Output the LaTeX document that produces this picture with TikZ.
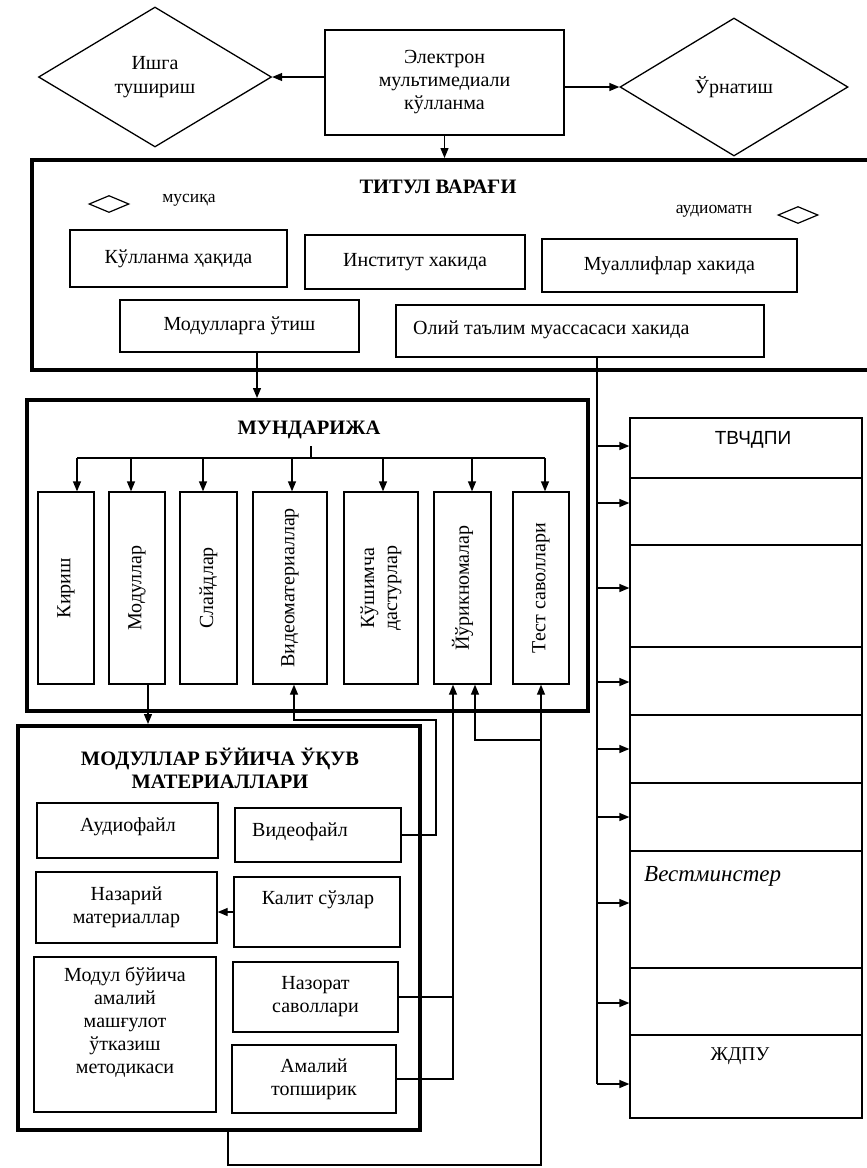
\documentclass[tikz,border=0pt]{standalone}
\usepackage{fontspec}
\setmainfont{Liberation Serif}
\newfontfamily\arialf{Liberation Sans}
\usetikzlibrary{shapes.geometric,arrows.meta}
\newcommand\mybox[7][]{\node[box,#1,minimum width={#5pt-#3pt},minimum height={#6pt-#4pt}] (#2) at ({(#3+#5)/2},{(#4+#6)/2}) {#7};}
\begin{document}
\begin{tikzpicture}[x=1pt,y=-1pt,
  box/.style={draw, line width=1.3pt, rectangle, inner sep=0pt, align=center},
  frame/.style={line width=4pt},
  dia/.style={draw, line width=1.3pt, diamond, inner sep=0pt, align=center, aspect=1.66},
  sdia/.style={draw, line width=1.2pt, diamond, inner sep=0pt, aspect=2.2},
  arr/.style={line width=1.3pt, -{Triangle[length=10pt,width=8pt]}},
  ln/.style={line width=1.3pt},
  txt/.style={inner sep=0pt, align=center},
  ttl/.style={inner sep=0pt, align=center, font=\bfseries\fontsize{20.5}{23}\selectfont},
  small/.style={inner sep=0pt, font=\fontsize{17.5}{20}\selectfont},
  font=\fontsize{20}{23}\selectfont]
\useasboundingbox (0,0) rectangle (867,1168);
\clip (0,0) rectangle (867,1168);

% ---------- top row
\node[dia, minimum width=233pt, minimum height=140pt] (ishga) at (155,77) {Ишга\\[1pt]тушириш};
\mybox{elec}{325}{30}{564}{135}{Электрон\\мультимедиали\\кўлланма}
\node[dia, minimum width=228pt, minimum height=138pt] (urn) at (734,87) {Ўрнатиш};
\draw[arr] (elec.west |- ishga.east) -- (ishga.east);
\draw[arr] (elec.east |- urn.west) -- (urn.west);

% ---------- title page frame
\mybox[frame]{tit}{32}{160}{872}{370}{}
\draw[arr] (elec.south) -- (elec.south |- tit.north);
\node[ttl] (titt) at (438,187) {ТИТУЛ ВАРАҒИ};
\node[sdia, minimum width=40pt, minimum height=17pt] (d1) at (109,204) {};
\node[small] (mus) at (189,200) {мусиқа};
\node[small] (aud) at (714,211) {аудиоматн};
\node[sdia, minimum width=40pt, minimum height=17pt] (d2) at (798,215) {};

\mybox{qull}{70}{230}{287}{287}{Кўлланма ҳақида}
\mybox{inst}{305}{235}{525}{289}{Институт хакида}
\mybox{mual}{542}{239}{797}{292}{Муаллифлар хакида}
\mybox{modo}{120}{300}{359}{352}{Модулларга ўтиш}
\mybox{oliy}{396}{305}{764}{357}{}
\node[txt, anchor=west] (oliyt) at (413,330) {Олий таълим муассасаси хакида};

% ---------- contents frame
\mybox[frame]{mund}{27}{400}{588}{711}{}
\coordinate (m1) at (257,352);
\draw[arr] (m1) -- (m1 |- mund.north);
\node[ttl] (mundt) at (309,430) {МУНДАРИЖА};

\mybox{kir}{38}{492}{94}{684}{}
\mybox{modl}{109}{492}{165}{684}{}
\mybox{slay}{180}{492}{237}{684}{}
\mybox{video}{253}{492}{327}{684}{}
\mybox{qush}{344}{492}{418}{684}{}
\mybox{yur}{434}{492}{491}{684}{}
\mybox{test}{513}{492}{569}{684}{}
\node[txt, rotate=90] at (kir) {Кириш};
\node[txt, rotate=90] at (modl) {Модуллар};
\node[txt, rotate=90] at (slay) {Слайдлар};
\node[txt, rotate=90] at (video) {Видеоматериаллар};
\node[txt, rotate=90] at (qush) {Кўшимча\\дастурлар};
\node[txt, rotate=90] at (yur) {Йўрикномалар};
\node[txt, rotate=90] at (test) {Тест саволлари};

\coordinate (stem) at (311,446);
\coordinate (b1) at (77,458);
\coordinate (b2) at (131,458);
\coordinate (b3) at (203,458);
\coordinate (b4) at (292,458);
\coordinate (b5) at (383,458);
\coordinate (b6) at (472,458);
\coordinate (b7) at (545,458);
\draw[ln] (stem) -- (stem |- b1);
\draw[ln] (b1) -- (b7);
\draw[arr] (b1) -- (b1 |- kir.north);
\draw[arr] (b2) -- (b2 |- modl.north);
\draw[arr] (b3) -- (b3 |- slay.north);
\draw[arr] (b4) -- (b4 |- video.north);
\draw[arr] (b5) -- (b5 |- qush.north);
\draw[arr] (b6) -- (b6 |- yur.north);
\draw[arr] (b7) -- (b7 |- test.north);

% ---------- modules frame
\mybox[frame]{mbox}{18}{726}{420}{1130}{}
\coordinate (m2) at (148,0);
\draw[arr] (m2 |- modl.south) -- (m2 |- mbox.north);
\node[ttl] (mboxt) at (220,768) {МОДУЛЛАР БЎЙИЧА ЎҚУВ\\МАТЕРИАЛЛАРИ};

\mybox{audio}{37}{803}{218}{858}{}
\node[txt] at (128,827) {Аудиофайл};
\mybox{vidf}{235}{808}{401}{862}{}
\node[txt] at (300,832) {Видеофайл};
\mybox{naz}{36}{872}{217}{943}{Назарий\\материаллар}
\mybox{kal}{234}{877}{400}{947}{}
\node[txt] at (318,900) {Калит сўзлар};
\mybox{mod}{34}{957}{216}{1112}{}
\node[txt] at (125,1022) {Модул бўйича\\амалий\\машғулот\\ўтказиш\\методикаси};
\mybox{nazo}{233}{962}{398}{1032}{Назорат\\саволлари}
\mybox{amal}{232}{1045}{396}{1113}{Амалий\\топширик}

\draw[arr] (kal.west) -- (kal.west -| naz.east);

% connectors back to contents
\coordinate (c1) at (436,720);
\coordinate (v1) at (294,0);
\draw[arr] (vidf.east) -| (c1) -| (v1 |- video.south);
\coordinate (y1) at (453,0);
\draw[arr] (nazo.east) -| (y1 |- yur.south);
\draw[ln] (amal.east) -| (y1 |- nazo.east);
\coordinate (k1) at (228,1165);
\coordinate (t1) at (541,0);
\draw[arr] (k1 |- mbox.south) -- (k1) -| (t1 |- test.south);
\coordinate (br) at (541,740);
\coordinate (y2) at (475,740);
\draw[arr] (br) -- (y2) -- (y2 |- yur.south);

% ---------- right stack
\mybox{s1}{630}{418}{862}{478}{}
\mybox{s2}{630}{478}{862}{545}{}
\mybox{s3}{630}{545}{862}{647}{}
\mybox{s4}{630}{647}{862}{715}{}
\mybox{s5}{630}{715}{862}{783}{}
\mybox{s6}{630}{783}{862}{851}{}
\mybox{s7}{630}{851}{862}{968}{}
\mybox{s8}{630}{968}{862}{1035}{}
\mybox{s9}{630}{1035}{862}{1118}{}
\node[txt, font=\arialf\fontsize{19}{22}\selectfont] (tv) at (753,440) {ТВЧДПИ};
\node[txt, anchor=west, font=\itshape\fontsize{23}{26}\selectfont] (vest) at (644,876) {Вестминстер};
\node[txt, font=\fontsize{19.5}{22}\selectfont] (jd) at (740,1056) {ЖДПУ};

\coordinate (o1) at (597,0);
\draw[ln] (o1 |- oliy.south) -- (597,1084);
\foreach \s/\yy in {s1/446,s2/503,s3/588,s4/682,s5/749,s6/817,s7/903,s8/1003,s9/1084}{
  \coordinate (aa) at (597,\yy);
  \draw[arr] (aa) -- (aa -| \s.west);
}
\end{tikzpicture}
\end{document}
